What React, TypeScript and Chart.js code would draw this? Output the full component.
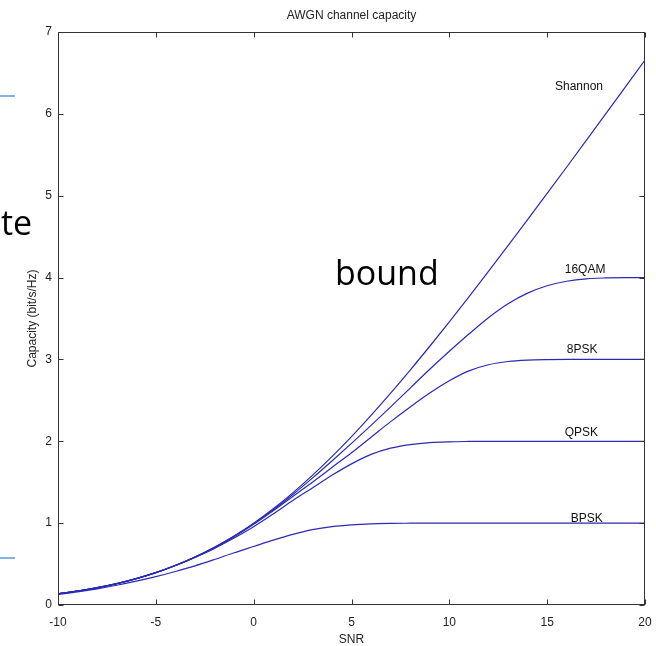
import React, { useEffect, useRef } from "react";
import { Chart, registerables } from "chart.js";

Chart.register(...registerables);

// SNR (dB) sample points
const snr = [-10, -9, -8, -7, -6, -5, -4, -3, -2, -1, 0, 1, 2, 3, 4, 5, 6, 7, 8, 9, 10, 11, 12, 13, 14, 15, 16, 17, 18, 19, 20];

// Capacity curves (bit/s/Hz)
const shannon = [0.137, 0.171, 0.212, 0.262, 0.323, 0.396, 0.484, 0.586, 0.706, 0.843, 1.0, 1.176, 1.37, 1.583, 1.812, 2.057, 2.317, 2.588, 2.87, 3.161, 3.459, 3.764, 4.075, 4.389, 4.707, 5.028, 5.351, 5.676, 6.002, 6.33, 6.658];
const qam16 = [0.137, 0.171, 0.212, 0.262, 0.323, 0.396, 0.483, 0.585, 0.704, 0.84, 0.993, 1.163, 1.35, 1.55, 1.76, 1.975, 2.195, 2.42, 2.65, 2.88, 3.1, 3.31, 3.51, 3.68, 3.81, 3.9, 3.955, 3.985, 3.996, 4.0, 4.0];
const psk8 = [0.137, 0.171, 0.212, 0.262, 0.322, 0.395, 0.482, 0.583, 0.7, 0.834, 0.985, 1.15, 1.325, 1.5, 1.68, 1.86, 2.05, 2.24, 2.42, 2.59, 2.74, 2.86, 2.935, 2.975, 2.992, 2.998, 3.0, 3.0, 3.0, 3.0, 3.0];
const qpsk = [0.136, 0.17, 0.21, 0.26, 0.322, 0.396, 0.482, 0.582, 0.692, 0.818, 0.956, 1.112, 1.276, 1.43, 1.584, 1.724, 1.84, 1.916, 1.96, 1.984, 1.994, 1.998, 2.0, 2.0, 2.0, 2.0, 2.0, 2.0, 2.0, 2.0, 2.0];
const bpsk = [0.13, 0.161, 0.198, 0.241, 0.291, 0.346, 0.409, 0.478, 0.556, 0.638, 0.715, 0.792, 0.862, 0.92, 0.958, 0.98, 0.992, 0.997, 0.999, 1.0, 1.0, 1.0, 1.0, 1.0, 1.0, 1.0, 1.0, 1.0, 1.0, 1.0, 1.0];

const seriesNames = ["Shannon", "16QAM", "8PSK", "QPSK", "BPSK"];
const seriesValues = [shannon, qam16, psk8, qpsk, bpsk];

// Curve annotation anchors (data coordinates)
const labelSnr = [15.4, 15.9, 16.0, 15.9, 16.2];
const labelCap = [6.33, 4.1, 3.12, 2.1, 1.05];

const chartTitle = "AWGN channel capacity";
const xTitle = "SNR";
const yTitle = "Capacity (bit/s/Hz)";

const FONT = '"Liberation Sans", Arial, sans-serif';
const LINE = "#2a2ab4";

const matlabPlugin = {
  id: "matlabDecor",
  afterDraw(chart: any) {
    const { ctx, chartArea: a, scales } = chart;
    const x = scales.x;
    const y = scales.y;
    ctx.save();
    // box
    const L = Math.round(a.left) + 0.5;
    const R = Math.round(a.right) - 0.5;
    const T = Math.round(a.top) + 0.5;
    const B = Math.round(a.bottom) - 0.5;
    ctx.strokeStyle = "#333";
    ctx.lineWidth = 1;
    ctx.strokeRect(L, T, R - L, B - T);
    // inside ticks
    const tl = 5;
    ctx.beginPath();
    x.ticks.forEach((t: any) => {
      const px = Math.round(x.getPixelForValue(t.value)) + 0.5;
      ctx.moveTo(px, B);
      ctx.lineTo(px, B - tl);
      ctx.moveTo(px, T);
      ctx.lineTo(px, T + tl);
    });
    y.ticks.forEach((t: any) => {
      const py = Math.round(y.getPixelForValue(t.value)) + 0.5;
      ctx.moveTo(L, py);
      ctx.lineTo(L + tl, py);
      ctx.moveTo(R, py);
      ctx.lineTo(R - tl, py);
    });
    ctx.stroke();

    // curve labels
    ctx.fillStyle = "#111";
    ctx.font = `12px ${FONT}`;
    ctx.textAlign = "left";
    ctx.textBaseline = "middle";
    seriesNames.forEach((n, i) => {
      ctx.fillText(n, x.getPixelForValue(labelSnr[i]), y.getPixelForValue(labelCap[i]));
    });

    // titles
    ctx.fillStyle = "#222";
    ctx.textAlign = "center";
    ctx.fillText(chartTitle, (a.left + a.right) / 2, 16);
    ctx.fillText(xTitle, (a.left + a.right) / 2, 640);
    ctx.save();
    ctx.translate(33, (a.top + a.bottom) / 2);
    ctx.rotate(-Math.PI / 2);
    ctx.fillText(yTitle, 0, 0);
    ctx.restore();

    // slide overlay remnants
    ctx.fillStyle = "#000";
    ctx.font = `34px "Open Sans", sans-serif`;
    ctx.textAlign = "left";
    ctx.textBaseline = "alphabetic";
    ctx.fillText("te", 1, 235);
    ctx.fillText("bound", 335, 285);
    ctx.strokeStyle = "#5b9bd5";
    ctx.lineWidth = 1.5;
    ctx.beginPath();
    ctx.moveTo(0, 96);
    ctx.lineTo(15, 96);
    ctx.moveTo(0, 558);
    ctx.lineTo(15, 558);
    ctx.stroke();
    ctx.restore();
  },
};

export default function App() {
  const ref = useRef<HTMLCanvasElement | null>(null);
  useEffect(() => {
    if (!ref.current) return;
    const chart = new Chart(ref.current, {
      type: "line",
      data: {
        datasets: seriesValues.map((vals, i) => ({
          label: seriesNames[i],
          data: snr.map((s, j) => ({ x: s, y: vals[j] })),
          borderColor: LINE,
          borderWidth: 1.2,
          pointRadius: 0,
          fill: false,
          cubicInterpolationMode: "monotone" as const,
        })),
      },
      options: {
        responsive: false,
        animation: false,
        layout: { padding: { top: 32, right: 11, left: 0, bottom: 0 } },
        plugins: { legend: { display: false }, tooltip: { enabled: false }, title: { display: false } },
        scales: {
          x: {
            type: "linear",
            min: -10,
            max: 20,
            afterFit: (s: any) => {
              s.height = 41;
              s.paddingLeft = 0;
              s.paddingRight = 0;
            },
            grid: { display: false, drawTicks: false },
            border: { display: false },
            ticks: { stepSize: 5, padding: 10, color: "#222", font: { family: FONT, size: 12 }, maxRotation: 0 },
          },
          y: {
            min: 0,
            max: 7,
            afterFit: (s: any) => {
              s.width = 58;
              s.paddingTop = 0;
              s.paddingBottom = 0;
            },
            grid: { display: false, drawTicks: false },
            border: { display: false },
            ticks: { stepSize: 1, padding: 6, color: "#222", font: { family: FONT, size: 12 } },
          },
        },
      },
      plugins: [matlabPlugin],
    });
    return () => chart.destroy();
  }, []);
  return (
    <div style={{ position: "absolute", left: 0, top: 0, width: 656, height: 646, background: "#fff" }}>
      <canvas ref={ref} width={656} height={646} />
    </div>
  );
}
